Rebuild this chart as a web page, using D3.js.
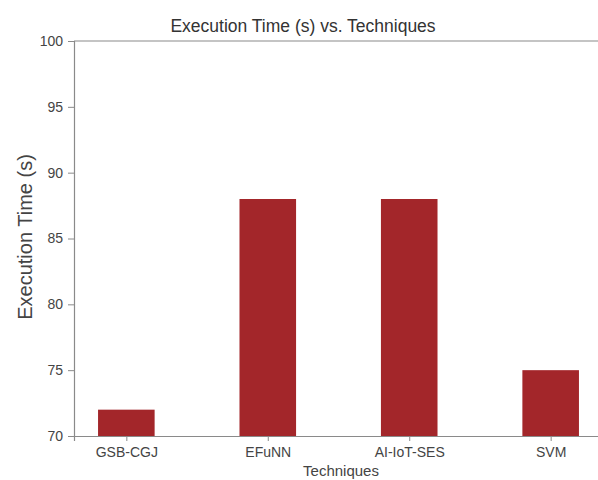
<!DOCTYPE html>
<html><head><meta charset="utf-8">
<script src="https://cdn.jsdelivr.net/npm/d3@7"></script>
<style>body{margin:0;background:#fff}</style>
</head><body>
<svg id="c" width="598" height="480"></svg>
<script>
const categories = ["GSB-CGJ", "EFuNN", "AI-IoT-SES", "SVM"];
const values = [72, 88, 88, 75];
const yTicks = [70, 75, 80, 85, 90, 95, 100];
const title = "Execution Time (s) vs. Techniques";
const xLabel = "Techniques";
const yLabel = "Execution Time (s)";

const svg = d3.select("#c");
const m = {left: 74, top: 41, bottom: 436, right: 603};
const font = "'Liberation Sans', Arial, sans-serif";
const barColor = "#a3262a";

const x = d3.scaleLinear().domain([-0.37, 3.37]).range([m.left, m.right]);
const y = d3.scaleLinear().domain([70, 100]).range([m.bottom, m.top]);
const bw = x(0.4) - x(0);

svg.append("g").selectAll("rect").data(values).join("rect")
  .attr("x", (d, i) => x(i) - bw / 2)
  .attr("y", d => y(d))
  .attr("width", bw)
  .attr("height", d => y(70) - y(d))
  .attr("fill", barColor);

svg.append("line").attr("x1", m.left).attr("x2", m.right).attr("y1", m.top).attr("y2", m.top)
  .attr("stroke", "#8a8a8a").attr("stroke-width", 1.2);
svg.append("line").attr("x1", m.right).attr("x2", m.right).attr("y1", m.top).attr("y2", m.bottom)
  .attr("stroke", "#8a8a8a").attr("stroke-width", 1.2);

const yAxis = svg.append("g").attr("transform", `translate(${m.left},0)`)
  .call(d3.axisLeft(y).tickValues(yTicks).tickSize(6).tickPadding(5));
const xAxis = svg.append("g").attr("transform", `translate(0,${m.bottom})`)
  .call(d3.axisBottom(x).tickValues(d3.range(categories.length)).tickFormat(i => categories[i]).tickSize(5).tickPadding(6));

[yAxis, xAxis].forEach(g => {
  g.selectAll(".domain").attr("stroke", "#8a8a8a").attr("stroke-width", 1.2);
  g.selectAll(".tick line").attr("stroke", "#8a8a8a");
  g.selectAll("text").attr("fill", "#444").style("font-family", font).style("font-size", "14px");
});

svg.append("text").attr("x", 303).attr("y", 32).attr("text-anchor", "middle")
  .style("font-family", font).style("font-size", "17.5px").attr("fill", "#333").text(title);
svg.append("text").attr("x", 341).attr("y", 476).attr("text-anchor", "middle")
  .style("font-family", font).style("font-size", "15px").attr("fill", "#444").text(xLabel);
svg.append("text").attr("transform", "translate(32,237) rotate(-90)").attr("text-anchor", "middle")
  .style("font-family", font).style("font-size", "20px").attr("fill", "#444").text(yLabel);
</script>
</body></html>
